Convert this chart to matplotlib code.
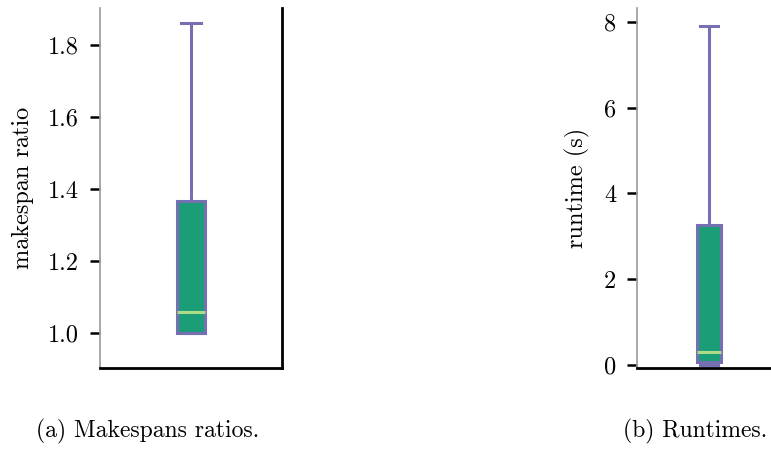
import matplotlib
matplotlib.use("Agg")
import matplotlib.pyplot as plt

plt.rcParams.update({
    "font.family": "cmr10",
    "mathtext.fontset": "cm",
    "axes.formatter.use_mathtext": True,
    "figure.facecolor": "white",
    "axes.facecolor": "white",
})

# box statistics: (whislo, q1, median, q3, whishi)
MAKESPAN_STATS = [1.0, 1.0, 1.058, 1.367, 1.861]
RUNTIME_STATS = [0.0, 0.08, 0.30, 3.26, 7.90]
MAKESPAN_TICKS = [1.0, 1.2, 1.4, 1.6, 1.8]
RUNTIME_TICKS = [0, 2, 4, 6, 8]

COLOR_FACE = "#1b9e77"
COLOR_EDGE = "#7570b3"
COLOR_MEDIAN = "#aedc86"


def _stats(vals):
    lo, q1, med, q3, hi = vals
    return {"whislo": lo, "q1": q1, "med": med, "q3": q3, "whishi": hi, "fliers": []}


def _draw_box(ax, vals, width, ylim, ticks, ylabel, fmt):
    ax.bxp([_stats(vals)], positions=[0], widths=width, capwidths=width * 0.72,
           patch_artist=True, showfliers=False,
           boxprops=dict(facecolor=COLOR_FACE, edgecolor=COLOR_EDGE, linewidth=2.2),
           whiskerprops=dict(color=COLOR_EDGE, linewidth=2.2),
           capprops=dict(color=COLOR_EDGE, linewidth=2.2),
           medianprops=dict(color=COLOR_MEDIAN, linewidth=2.2))
    ax.set_xlim(-0.5, 0.5)
    ax.set_ylim(*ylim)
    ax.set_xticks([])
    ax.set_yticks(ticks)
    ax.set_yticklabels([fmt(t) for t in ticks])
    ax.tick_params(axis="y", length=7, width=1.8, labelsize=17.5, pad=8)
    ax.set_ylabel(ylabel, fontsize=17.5, labelpad=10)
    ax.spines["top"].set_visible(False)
    ax.spines["left"].set_color("#9a9a9a")
    ax.spines["left"].set_linewidth(1.2)
    ax.spines["bottom"].set_linewidth(2.0)
    ax.spines["right"].set_linewidth(2.0)


fig = plt.figure(figsize=(7.71, 4.49), dpi=100)
ax1 = fig.add_axes([0.1297, 0.1804, 0.2361, 0.8018])
ax2 = fig.add_axes([0.8262, 0.1804, 0.1868, 0.8018])

_draw_box(ax1, MAKESPAN_STATS, 0.154, (0.903, 1.903), MAKESPAN_TICKS,
          "makespan ratio", lambda t: f"{t:.1f}")
_draw_box(ax2, RUNTIME_STATS, 0.167, (-0.07, 8.32), RUNTIME_TICKS,
          "runtime (s)", lambda t: f"{t:d}")

fig.text(0.191, 0.025, "(a) Makespans ratios.", ha="center", fontsize=17)
fig.text(0.995, 0.025, "(b) Runtimes.", ha="right", fontsize=17)

fig.savefig("out.png", dpi=100, facecolor="white")
